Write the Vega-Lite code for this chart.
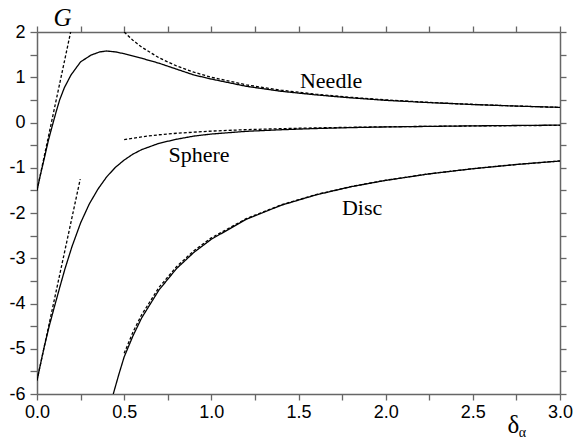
{
  "$schema": "https://vega.github.io/schema/vega-lite/v6.json",
  "width": 523,
  "height": 362,
  "autosize": {"type": "none"},
  "padding": {"left": 37, "top": 32, "right": 20, "bottom": 45},
  "background": "white",
  "config": {
    "view": {"stroke": null},
    "axis": {
      "grid": false,
      "domainColor": "#666",
      "domainWidth": 1.5,
      "tickColor": "#666",
      "tickWidth": 1.3,
      "tickSize": 6,
      "labelFont": "Liberation Sans",
      "labelFontSize": 18,
      "labelColor": "#000",
      "labelOverlap": false,
      "labelFlush": false,
      "labelBound": false,
      "titleColor": "#000",
      "titleFontWeight": "normal"
    }
  },
  "datasets": {
    "curves": [
      {"c": "needle", "s": "solid", "x": 0, "y": -1.5},
      {"c": "needle", "s": "solid", "x": 0.02, "y": -1.15},
      {"c": "needle", "s": "solid", "x": 0.042, "y": -0.79},
      {"c": "needle", "s": "solid", "x": 0.065, "y": -0.4},
      {"c": "needle", "s": "solid", "x": 0.09, "y": -0.04},
      {"c": "needle", "s": "solid", "x": 0.11, "y": 0.24},
      {"c": "needle", "s": "solid", "x": 0.13, "y": 0.5},
      {"c": "needle", "s": "solid", "x": 0.157, "y": 0.77},
      {"c": "needle", "s": "solid", "x": 0.195, "y": 1.05},
      {"c": "needle", "s": "solid", "x": 0.25, "y": 1.34},
      {"c": "needle", "s": "solid", "x": 0.31, "y": 1.49},
      {"c": "needle", "s": "solid", "x": 0.36, "y": 1.56},
      {"c": "needle", "s": "solid", "x": 0.4, "y": 1.58},
      {"c": "needle", "s": "solid", "x": 0.45, "y": 1.56},
      {"c": "needle", "s": "solid", "x": 0.5, "y": 1.52},
      {"c": "needle", "s": "solid", "x": 0.6, "y": 1.42},
      {"c": "needle", "s": "solid", "x": 0.7, "y": 1.31},
      {"c": "needle", "s": "solid", "x": 0.8, "y": 1.18},
      {"c": "needle", "s": "solid", "x": 0.9, "y": 1.05},
      {"c": "needle", "s": "solid", "x": 1.0, "y": 0.96},
      {"c": "needle", "s": "solid", "x": 1.2, "y": 0.8},
      {"c": "needle", "s": "solid", "x": 1.4, "y": 0.69},
      {"c": "needle", "s": "solid", "x": 1.6, "y": 0.61},
      {"c": "needle", "s": "solid", "x": 1.8, "y": 0.545},
      {"c": "needle", "s": "solid", "x": 2.0, "y": 0.49},
      {"c": "needle", "s": "solid", "x": 2.25, "y": 0.44},
      {"c": "needle", "s": "solid", "x": 2.5, "y": 0.397},
      {"c": "needle", "s": "solid", "x": 2.75, "y": 0.363},
      {"c": "needle", "s": "solid", "x": 3.0, "y": 0.334},
      {"c": "needle_tan", "s": "dashed", "x": 0, "y": -1.5},
      {"c": "needle_tan", "s": "dashed", "x": 0.193, "y": 2.0},
      {"c": "needle_asym", "s": "dashed", "x": 0.5, "y": 2.0},
      {"c": "needle_asym", "s": "dashed", "x": 0.55, "y": 1.818},
      {"c": "needle_asym", "s": "dashed", "x": 0.6, "y": 1.667},
      {"c": "needle_asym", "s": "dashed", "x": 0.7, "y": 1.429},
      {"c": "needle_asym", "s": "dashed", "x": 0.8, "y": 1.25},
      {"c": "needle_asym", "s": "dashed", "x": 0.9, "y": 1.111},
      {"c": "needle_asym", "s": "dashed", "x": 1.0, "y": 1.0},
      {"c": "needle_asym", "s": "dashed", "x": 1.2, "y": 0.833},
      {"c": "needle_asym", "s": "dashed", "x": 1.4, "y": 0.714},
      {"c": "needle_asym", "s": "dashed", "x": 1.6, "y": 0.625},
      {"c": "needle_asym", "s": "dashed", "x": 1.8, "y": 0.556},
      {"c": "needle_asym", "s": "dashed", "x": 2.0, "y": 0.5},
      {"c": "needle_asym", "s": "dashed", "x": 2.25, "y": 0.444},
      {"c": "needle_asym", "s": "dashed", "x": 2.5, "y": 0.4},
      {"c": "needle_asym", "s": "dashed", "x": 2.75, "y": 0.364},
      {"c": "needle_asym", "s": "dashed", "x": 3.0, "y": 0.333},
      {"c": "sphere", "s": "solid", "x": 0, "y": -5.7},
      {"c": "sphere", "s": "solid", "x": 0.02, "y": -5.34},
      {"c": "sphere", "s": "solid", "x": 0.042, "y": -4.95},
      {"c": "sphere", "s": "solid", "x": 0.07, "y": -4.5},
      {"c": "sphere", "s": "solid", "x": 0.1, "y": -4.07},
      {"c": "sphere", "s": "solid", "x": 0.13, "y": -3.65},
      {"c": "sphere", "s": "solid", "x": 0.16, "y": -3.24},
      {"c": "sphere", "s": "solid", "x": 0.2, "y": -2.75},
      {"c": "sphere", "s": "solid", "x": 0.25, "y": -2.22},
      {"c": "sphere", "s": "solid", "x": 0.3, "y": -1.8},
      {"c": "sphere", "s": "solid", "x": 0.35, "y": -1.47},
      {"c": "sphere", "s": "solid", "x": 0.4, "y": -1.2},
      {"c": "sphere", "s": "solid", "x": 0.45, "y": -0.99},
      {"c": "sphere", "s": "solid", "x": 0.5, "y": -0.83},
      {"c": "sphere", "s": "solid", "x": 0.55, "y": -0.7},
      {"c": "sphere", "s": "solid", "x": 0.6, "y": -0.6},
      {"c": "sphere", "s": "solid", "x": 0.7, "y": -0.46},
      {"c": "sphere", "s": "solid", "x": 0.8, "y": -0.37},
      {"c": "sphere", "s": "solid", "x": 0.9, "y": -0.3},
      {"c": "sphere", "s": "solid", "x": 1.0, "y": -0.255},
      {"c": "sphere", "s": "solid", "x": 1.2, "y": -0.195},
      {"c": "sphere", "s": "solid", "x": 1.4, "y": -0.16},
      {"c": "sphere", "s": "solid", "x": 1.6, "y": -0.133},
      {"c": "sphere", "s": "solid", "x": 1.8, "y": -0.113},
      {"c": "sphere", "s": "solid", "x": 2.0, "y": -0.098},
      {"c": "sphere", "s": "solid", "x": 2.5, "y": -0.074},
      {"c": "sphere", "s": "solid", "x": 3.0, "y": -0.058},
      {"c": "sphere_tan", "s": "dashed", "x": 0, "y": -5.7},
      {"c": "sphere_tan", "s": "dashed", "x": 0.248, "y": -1.25},
      {"c": "sphere_asym", "s": "dashed", "x": 0.5, "y": -0.38},
      {"c": "sphere_asym", "s": "dashed", "x": 0.6, "y": -0.317},
      {"c": "sphere_asym", "s": "dashed", "x": 0.7, "y": -0.271},
      {"c": "sphere_asym", "s": "dashed", "x": 0.8, "y": -0.238},
      {"c": "sphere_asym", "s": "dashed", "x": 1.0, "y": -0.19},
      {"c": "sphere_asym", "s": "dashed", "x": 1.2, "y": -0.158},
      {"c": "sphere_asym", "s": "dashed", "x": 1.4, "y": -0.136},
      {"c": "sphere_asym", "s": "dashed", "x": 1.6, "y": -0.119},
      {"c": "sphere_asym", "s": "dashed", "x": 1.8, "y": -0.106},
      {"c": "sphere_asym", "s": "dashed", "x": 2.0, "y": -0.095},
      {"c": "sphere_asym", "s": "dashed", "x": 2.5, "y": -0.076},
      {"c": "sphere_asym", "s": "dashed", "x": 3.0, "y": -0.063},
      {"c": "disc", "s": "solid", "x": 0.4375, "y": -6.0},
      {"c": "disc", "s": "solid", "x": 0.45, "y": -5.83},
      {"c": "disc", "s": "solid", "x": 0.47, "y": -5.56},
      {"c": "disc", "s": "solid", "x": 0.5, "y": -5.18},
      {"c": "disc", "s": "solid", "x": 0.55, "y": -4.72},
      {"c": "disc", "s": "solid", "x": 0.6, "y": -4.32},
      {"c": "disc", "s": "solid", "x": 0.7, "y": -3.7},
      {"c": "disc", "s": "solid", "x": 0.8, "y": -3.23},
      {"c": "disc", "s": "solid", "x": 0.9, "y": -2.87},
      {"c": "disc", "s": "solid", "x": 1.0, "y": -2.58},
      {"c": "disc", "s": "solid", "x": 1.2, "y": -2.14},
      {"c": "disc", "s": "solid", "x": 1.4, "y": -1.83},
      {"c": "disc", "s": "solid", "x": 1.6, "y": -1.6},
      {"c": "disc", "s": "solid", "x": 1.8, "y": -1.42},
      {"c": "disc", "s": "solid", "x": 2.0, "y": -1.28},
      {"c": "disc", "s": "solid", "x": 2.25, "y": -1.135},
      {"c": "disc", "s": "solid", "x": 2.5, "y": -1.022},
      {"c": "disc", "s": "solid", "x": 2.75, "y": -0.928},
      {"c": "disc", "s": "solid", "x": 3.0, "y": -0.851},
      {"c": "disc_asym", "s": "dashed", "x": 0.5, "y": -5.1},
      {"c": "disc_asym", "s": "dashed", "x": 0.55, "y": -4.636},
      {"c": "disc_asym", "s": "dashed", "x": 0.6, "y": -4.25},
      {"c": "disc_asym", "s": "dashed", "x": 0.7, "y": -3.643},
      {"c": "disc_asym", "s": "dashed", "x": 0.8, "y": -3.188},
      {"c": "disc_asym", "s": "dashed", "x": 0.9, "y": -2.833},
      {"c": "disc_asym", "s": "dashed", "x": 1.0, "y": -2.55},
      {"c": "disc_asym", "s": "dashed", "x": 1.2, "y": -2.125},
      {"c": "disc_asym", "s": "dashed", "x": 1.4, "y": -1.821},
      {"c": "disc_asym", "s": "dashed", "x": 1.6, "y": -1.594},
      {"c": "disc_asym", "s": "dashed", "x": 1.8, "y": -1.417},
      {"c": "disc_asym", "s": "dashed", "x": 2.0, "y": -1.275},
      {"c": "disc_asym", "s": "dashed", "x": 2.25, "y": -1.133},
      {"c": "disc_asym", "s": "dashed", "x": 2.5, "y": -1.02},
      {"c": "disc_asym", "s": "dashed", "x": 2.75, "y": -0.927},
      {"c": "disc_asym", "s": "dashed", "x": 3.0, "y": -0.85}
    ],
    "labels": [
      {"label": "Needle", "x": 1.687, "y": 0.77},
      {"label": "Sphere", "x": 0.929, "y": -0.88},
      {"label": "Disc", "x": 1.865, "y": -2.04}
    ]
  },
  "layer": [
    {
      "mark": {"type": "rule", "color": "#777", "strokeDash": [1, 2], "strokeWidth": 1},
      "encoding": {
        "y": {"datum": 0, "type": "quantitative", "axis": null}
      }
    },
    {
      "data": {"name": "curves"},
      "mark": {"type": "line", "color": "#000", "strokeWidth": 1.3, "clip": true},
      "encoding": {
        "x": {
          "field": "x", "type": "quantitative",
          "scale": {"domain": [0, 3], "nice": false, "zero": false},
          "axis": {
            "orient": "bottom",
            "values": [0, 0.25, 0.5, 0.75, 1, 1.25, 1.5, 1.75, 2, 2.25, 2.5, 2.75, 3],
            "labelExpr": "(datum.value * 2) % 1 == 0 ? format(datum.value, '.1f') : ''",
            "labelPadding": 3,
            "title": "δ",
            "titleFont": "Liberation Serif",
            "titleFontSize": 25,
            "titleX": 476,
            "titleY": 38,
            "titleAlign": "center",
            "titleBaseline": "alphabetic"
          }
        },
        "y": {
          "field": "y", "type": "quantitative",
          "scale": {"domain": [-6, 2], "nice": false, "zero": false},
          "axis": {
            "orient": "left",
            "values": [-6, -5.5, -5, -4.5, -4, -3.5, -3, -2.5, -2, -1.5, -1, -0.5, 0, 0.5, 1, 1.5, 2],
            "labelExpr": "datum.value % 1 == 0 ? '' + datum.value : ''",
            "tickSize": 7,
            "labelPadding": 5,
            "title": "G",
            "titleFont": "Liberation Serif",
            "titleFontStyle": "italic",
            "titleFontSize": 25,
            "titleAngle": 0,
            "titleX": 25,
            "titleY": -7,
            "titleAlign": "center",
            "titleBaseline": "alphabetic"
          }
        },
        "detail": {"field": "c"},
        "strokeDash": {
          "field": "s", "type": "nominal",
          "scale": {"domain": ["solid", "dashed"], "range": [[1, 0], [3, 2]]},
          "legend": null
        }
      }
    },
    {
      "data": {"name": "labels"},
      "mark": {"type": "text", "font": "Liberation Serif", "fontSize": 22, "color": "#000", "align": "center", "baseline": "alphabetic"},
      "encoding": {
        "x": {
          "field": "x", "type": "quantitative",
          "axis": {
            "orient": "top",
            "values": [0, 0.25, 0.5, 0.75, 1, 1.25, 1.5, 1.75, 2, 2.25, 2.5, 2.75, 3],
            "labels": false,
            "title": "α",
            "titleFont": "Liberation Serif",
            "titleFontSize": 14,
            "titleX": 485,
            "titleY": 404,
            "titleAlign": "center",
            "titleBaseline": "alphabetic"
          }
        },
        "y": {
          "field": "y", "type": "quantitative",
          "axis": {
            "orient": "right",
            "values": [-6, -5.5, -5, -4.5, -4, -3.5, -3, -2.5, -2, -1.5, -1, -0.5, 0, 0.5, 1, 1.5, 2],
            "labels": false,
            "title": null
          }
        },
        "text": {"field": "label"}
      }
    }
  ],
  "resolve": {"axis": {"x": "independent", "y": "independent"}}
}
